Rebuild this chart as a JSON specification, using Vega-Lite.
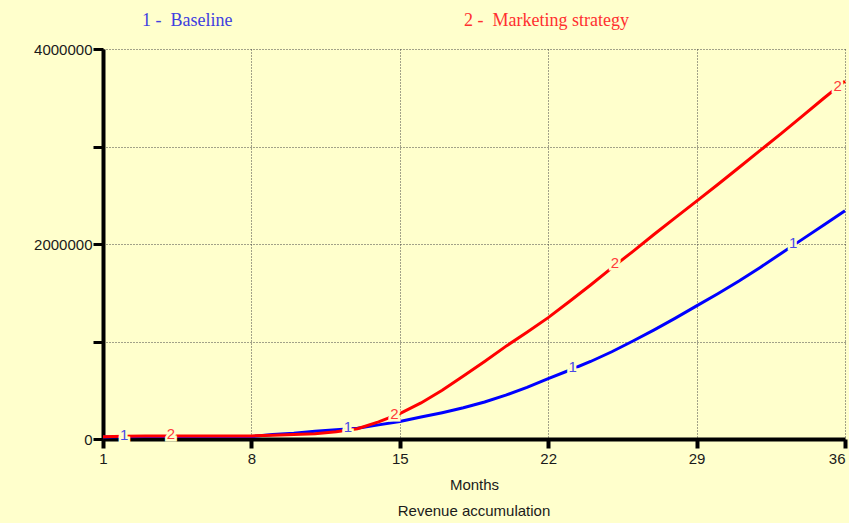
{
  "$schema": "https://vega.github.io/schema/vega-lite/v6.json",
  "width": 742,
  "height": 390,
  "autosize": {"type": "none"},
  "padding": {"left": 103, "top": 49, "right": 4, "bottom": 84},
  "background": "#FFFFCC",
  "config": {"view": {"stroke": null}},
  "title": {"text": "Revenue accumulation", "orient": "bottom", "font": "Liberation Sans", "fontSize": 15, "fontWeight": "normal", "color": "#1a1a1a", "offset": 12, "anchor": "middle"},
  "datasets": {
    "series": [
      {"month": 1, "series": "Baseline", "value": 20000},
      {"month": 2, "series": "Baseline", "value": 22000},
      {"month": 3, "series": "Baseline", "value": 25000},
      {"month": 4, "series": "Baseline", "value": 25000},
      {"month": 5, "series": "Baseline", "value": 25000},
      {"month": 6, "series": "Baseline", "value": 25000},
      {"month": 7, "series": "Baseline", "value": 25000},
      {"month": 8, "series": "Baseline", "value": 25000},
      {"month": 9, "series": "Baseline", "value": 45000},
      {"month": 10, "series": "Baseline", "value": 60000},
      {"month": 11, "series": "Baseline", "value": 80000},
      {"month": 12, "series": "Baseline", "value": 95000},
      {"month": 13, "series": "Baseline", "value": 110000},
      {"month": 14, "series": "Baseline", "value": 145000},
      {"month": 15, "series": "Baseline", "value": 180000},
      {"month": 16, "series": "Baseline", "value": 225000},
      {"month": 17, "series": "Baseline", "value": 270000},
      {"month": 18, "series": "Baseline", "value": 320000},
      {"month": 19, "series": "Baseline", "value": 380000},
      {"month": 20, "series": "Baseline", "value": 450000},
      {"month": 21, "series": "Baseline", "value": 530000},
      {"month": 22, "series": "Baseline", "value": 620000},
      {"month": 23, "series": "Baseline", "value": 705000},
      {"month": 24, "series": "Baseline", "value": 795000},
      {"month": 25, "series": "Baseline", "value": 895000},
      {"month": 26, "series": "Baseline", "value": 1005000},
      {"month": 27, "series": "Baseline", "value": 1120000},
      {"month": 28, "series": "Baseline", "value": 1240000},
      {"month": 29, "series": "Baseline", "value": 1365000},
      {"month": 30, "series": "Baseline", "value": 1490000},
      {"month": 31, "series": "Baseline", "value": 1620000},
      {"month": 32, "series": "Baseline", "value": 1760000},
      {"month": 33, "series": "Baseline", "value": 1905000},
      {"month": 34, "series": "Baseline", "value": 2050000},
      {"month": 35, "series": "Baseline", "value": 2195000},
      {"month": 36, "series": "Baseline", "value": 2340000},
      {"month": 1, "series": "Marketing strategy", "value": 22000},
      {"month": 2, "series": "Marketing strategy", "value": 28000},
      {"month": 3, "series": "Marketing strategy", "value": 30000},
      {"month": 4, "series": "Marketing strategy", "value": 30000},
      {"month": 5, "series": "Marketing strategy", "value": 30000},
      {"month": 6, "series": "Marketing strategy", "value": 30000},
      {"month": 7, "series": "Marketing strategy", "value": 30000},
      {"month": 8, "series": "Marketing strategy", "value": 32000},
      {"month": 9, "series": "Marketing strategy", "value": 38000},
      {"month": 10, "series": "Marketing strategy", "value": 45000},
      {"month": 11, "series": "Marketing strategy", "value": 55000},
      {"month": 12, "series": "Marketing strategy", "value": 75000},
      {"month": 13, "series": "Marketing strategy", "value": 105000},
      {"month": 14, "series": "Marketing strategy", "value": 175000},
      {"month": 15, "series": "Marketing strategy", "value": 260000},
      {"month": 16, "series": "Marketing strategy", "value": 370000},
      {"month": 17, "series": "Marketing strategy", "value": 500000},
      {"month": 18, "series": "Marketing strategy", "value": 645000},
      {"month": 19, "series": "Marketing strategy", "value": 795000},
      {"month": 20, "series": "Marketing strategy", "value": 950000},
      {"month": 21, "series": "Marketing strategy", "value": 1095000},
      {"month": 22, "series": "Marketing strategy", "value": 1245000},
      {"month": 23, "series": "Marketing strategy", "value": 1410000},
      {"month": 24, "series": "Marketing strategy", "value": 1580000},
      {"month": 25, "series": "Marketing strategy", "value": 1755000},
      {"month": 26, "series": "Marketing strategy", "value": 1925000},
      {"month": 27, "series": "Marketing strategy", "value": 2100000},
      {"month": 28, "series": "Marketing strategy", "value": 2270000},
      {"month": 29, "series": "Marketing strategy", "value": 2440000},
      {"month": 30, "series": "Marketing strategy", "value": 2610000},
      {"month": 31, "series": "Marketing strategy", "value": 2785000},
      {"month": 32, "series": "Marketing strategy", "value": 2960000},
      {"month": 33, "series": "Marketing strategy", "value": 3135000},
      {"month": 34, "series": "Marketing strategy", "value": 3315000},
      {"month": 35, "series": "Marketing strategy", "value": 3495000},
      {"month": 36, "series": "Marketing strategy", "value": 3670000}
    ],
    "labels": [
      {"month": 2.0, "series": "Baseline", "value": 25000, "text": "1"},
      {"month": 12.55, "series": "Baseline", "value": 105000, "text": "1"},
      {"month": 23.15, "series": "Baseline", "value": 720000, "text": "1"},
      {"month": 33.55, "series": "Baseline", "value": 1985000, "text": "1"},
      {"month": 4.2, "series": "Marketing strategy", "value": 30000, "text": "2"},
      {"month": 14.75, "series": "Marketing strategy", "value": 240000, "text": "2"},
      {"month": 25.15, "series": "Marketing strategy", "value": 1780000, "text": "2"},
      {"month": 35.65, "series": "Marketing strategy", "value": 3600000, "text": "2"}
    ]
  },
  "encoding": {
    "x": {
      "field": "month", "type": "quantitative",
      "scale": {"domain": [1, 36], "nice": false, "zero": false},
      "axis": {
        "values": [1, 8, 15, 22, 29, 36],
        "title": "Months",
        "titleFont": "Liberation Sans", "titleFontSize": 15, "titleFontWeight": "normal", "titleColor": "#1a1a1a", "titlePadding": 11,
        "labelFont": "Liberation Sans", "labelFontSize": 15, "labelColor": "#1a1a1a", "labelPadding": 3,
        "labelAlign": {"expr": "datum.value === 36 ? 'right' : 'center'"},
        "domainColor": "#000000", "domainWidth": 4,
        "tickColor": "#000000", "tickWidth": 4, "tickSize": 9,
        "grid": true, "gridColor": "#444444", "gridDash": [1, 2], "gridWidth": 1
      }
    },
    "y": {
      "field": "value", "type": "quantitative",
      "scale": {"domain": [0, 4000000], "nice": false},
      "axis": {
        "values": [0, 1000000, 2000000, 3000000, 4000000],
        "format": "d",
        "labelExpr": "datum.value % 2000000 === 0 ? datum.label : ''",
        "title": null,
        "labelFont": "Liberation Sans", "labelFontSize": 15, "labelColor": "#1a1a1a", "labelPadding": 1,
        "domainColor": "#000000", "domainWidth": 4,
        "tickColor": "#000000", "tickWidth": 3, "tickSize": 10,
        "grid": true, "gridColor": "#444444", "gridDash": [1, 2], "gridWidth": 1
      }
    }
  },
  "layer": [
    {
      "data": {"name": "series"},
      "mark": {"type": "line", "strokeWidth": 3, "interpolate": "linear"},
      "encoding": {
        "color": {
          "field": "series", "type": "nominal",
          "scale": {"domain": ["Baseline", "Marketing strategy"], "range": ["#0000FF", "#FF0000"]},
          "legend": {
            "orient": "none", "legendX": 21, "legendY": -37,
            "direction": "horizontal", "title": null,
            "symbolSize": 0, "symbolOpacity": 0, "symbolStrokeWidth": 0,
            "labelOffset": 0, "columnPadding": 213,
            "labelFont": "Liberation Serif", "labelFontSize": 18, "labelLimit": 400,
            "labelExpr": "datum.label === 'Baseline' ? '1 -\u00a0 Baseline' : '2 -\u00a0 Marketing strategy'",
            "encode": {"labels": {"update": {"fill": {"signal": "datum.value === 'Baseline' ? '#4040e0' : '#ff3030'"}}}}
          }
        }
      }
    },
    {
      "data": {"name": "labels"},
      "mark": {"type": "text", "font": "Liberation Sans", "fontSize": 15, "fill": "#FFFFCC", "stroke": "#FFFFCC", "strokeWidth": 5, "baseline": "middle", "align": "center", "dy": -2},
      "encoding": {"text": {"field": "text"}}
    },
    {
      "data": {"name": "labels"},
      "mark": {"type": "text", "font": "Liberation Sans", "fontSize": 15, "baseline": "middle", "align": "center", "dy": -2},
      "encoding": {
        "text": {"field": "text"},
        "color": {"condition": {"test": "datum.series === 'Baseline'", "value": "#4a4ae6"}, "value": "#ff3b3b"}
      }
    }
  ]
}
